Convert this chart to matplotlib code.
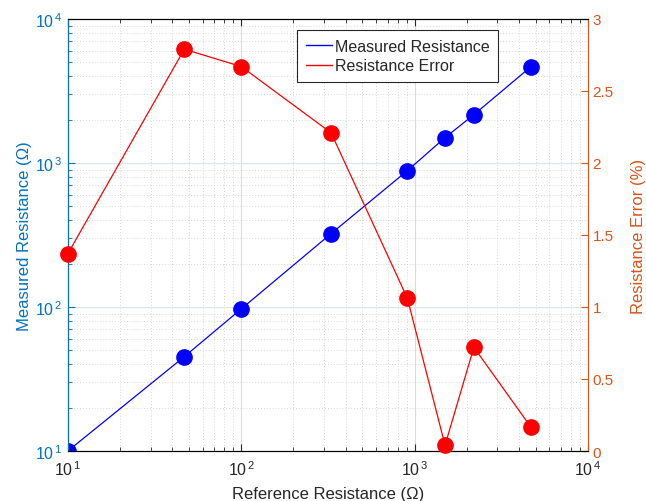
import numpy as np
import matplotlib
matplotlib.use('Agg')
import matplotlib.pyplot as plt
from matplotlib.lines import Line2D
from matplotlib.ticker import LogLocator, NullFormatter

plt.rcParams['font.family'] = ['Liberation Sans', 'DejaVu Sans']
plt.rcParams['mathtext.fontset'] = 'custom'
plt.rcParams['mathtext.rm'] = 'Liberation Sans'
plt.rcParams['mathtext.it'] = 'Liberation Sans'

# reference resistors (ohm)
ref_res = [10, 47, 100, 330, 910, 1500, 2200, 4700]
# measured values (ohm)
meas_res = [10.0, 45.2, 96.9, 323, 885, 1500, 2165, 4670]
# error (%)
err_pct = [1.37, 2.79, 2.67, 2.21, 1.06, 0.04, 0.72, 0.165]

x_ticks = [10, 100, 1000, 10000]
x_labels = [r'$10^{\,1}$', r'$10^{\,2}$', r'$10^{\,3}$', r'$10^{\,4}$']
y_ticks = [10, 100, 1000, 10000]
y_labels = [r'$10^{\,1}$', r'$10^{\,2}$', r'$10^{\,3}$', r'$10^{\,4}$']
err_ticks = [0, 0.5, 1, 1.5, 2, 2.5, 3]
err_labels = ['0', '0.5', '1', '1.5', '2', '2.5', '3']

c_left = '#0072BD'
c_right = '#D95319'
c_dark = '#262626'

fig = plt.figure(figsize=(6.46, 5.02), dpi=100)
ax = fig.add_axes([0.105, 0.0996, 0.805, 0.8606])
ax2 = ax.twinx()

ax.set_xscale('log')
ax.set_yscale('log')
ax.set_xlim(10, 10000)
ax.set_ylim(10, 10000)
ax2.set_ylim(0, 3)

# grids
ax.xaxis.set_minor_locator(LogLocator(base=10, subs=np.arange(2, 10)))
ax.yaxis.set_minor_locator(LogLocator(base=10, subs=np.arange(2, 10)))
ax.xaxis.set_minor_formatter(NullFormatter())
ax.yaxis.set_minor_formatter(NullFormatter())
ax.grid(True, which='major', axis='x', color='#dcdcdc', linewidth=0.8)
ax.grid(True, which='major', axis='y', color='#d6e6f2', linewidth=0.8)
ax.grid(True, which='minor', color='#c8c8c8', linestyle=(0, (1, 2.5)), linewidth=0.6)
ax.set_axisbelow(True)

ax.plot(ref_res, meas_res, color='blue', linewidth=0.9, marker='o',
        markersize=11, markerfacecolor='blue', markeredgecolor='blue', zorder=3)
ax2.plot(ref_res, err_pct, color='red', linewidth=0.9, marker='o',
         markersize=11, markerfacecolor='red', markeredgecolor='red', zorder=3,
         clip_on=False)

ax.set_xticks(x_ticks)
ax.set_xticklabels(x_labels)
ax.set_yticks(y_ticks)
ax.set_yticklabels(y_labels)
ax2.set_yticks(err_ticks)
ax2.set_yticklabels(err_labels)

ax.tick_params(axis='x', which='both', direction='in', top=True, colors=c_dark,
               labelsize=11.5, pad=6)
ax.tick_params(axis='x', which='major', length=5)
ax.tick_params(axis='x', which='minor', length=3)
ax.tick_params(axis='y', which='both', direction='in', colors=c_left,
               labelsize=11.5, pad=4)
ax.tick_params(axis='y', which='major', length=5)
ax.tick_params(axis='y', which='minor', length=3)
ax2.tick_params(axis='y', which='both', direction='in', colors=c_right,
                labelsize=11, length=5)

for s in ['top', 'bottom']:
    ax.spines[s].set_color(c_dark)
ax.spines['left'].set_color(c_left)
ax2.spines['left'].set_color(c_left)
ax2.spines['right'].set_color(c_right)
ax.spines['right'].set_visible(False)
for sp in list(ax.spines.values()) + list(ax2.spines.values()):
    sp.set_linewidth(0.8)

ax.set_xlabel('Reference Resistance (Ω)', fontsize=12, color=c_dark, labelpad=6)
ax.set_ylabel('Measured Resistance (Ω)', fontsize=12, color=c_left, labelpad=2)
ax2.set_ylabel('Resistance Error (%)', fontsize=12, color=c_right, labelpad=12)

handles = [Line2D([0], [0], color='blue', linewidth=1),
           Line2D([0], [0], color='red', linewidth=1)]
leg = ax2.legend(handles, ['Measured Resistance', 'Resistance Error'],
                 loc='upper left', bbox_to_anchor=(0.441, 0.975), fontsize=11.5,
                 frameon=True, fancybox=False, framealpha=1, edgecolor=c_dark,
                 handlelength=1.6, handletextpad=0.2, borderpad=0.55,
                 labelspacing=0.3, borderaxespad=0)
leg.get_frame().set_linewidth(0.8)
for t in leg.get_texts():
    t.set_color(c_dark)

fig.savefig('out.png', dpi=100)
